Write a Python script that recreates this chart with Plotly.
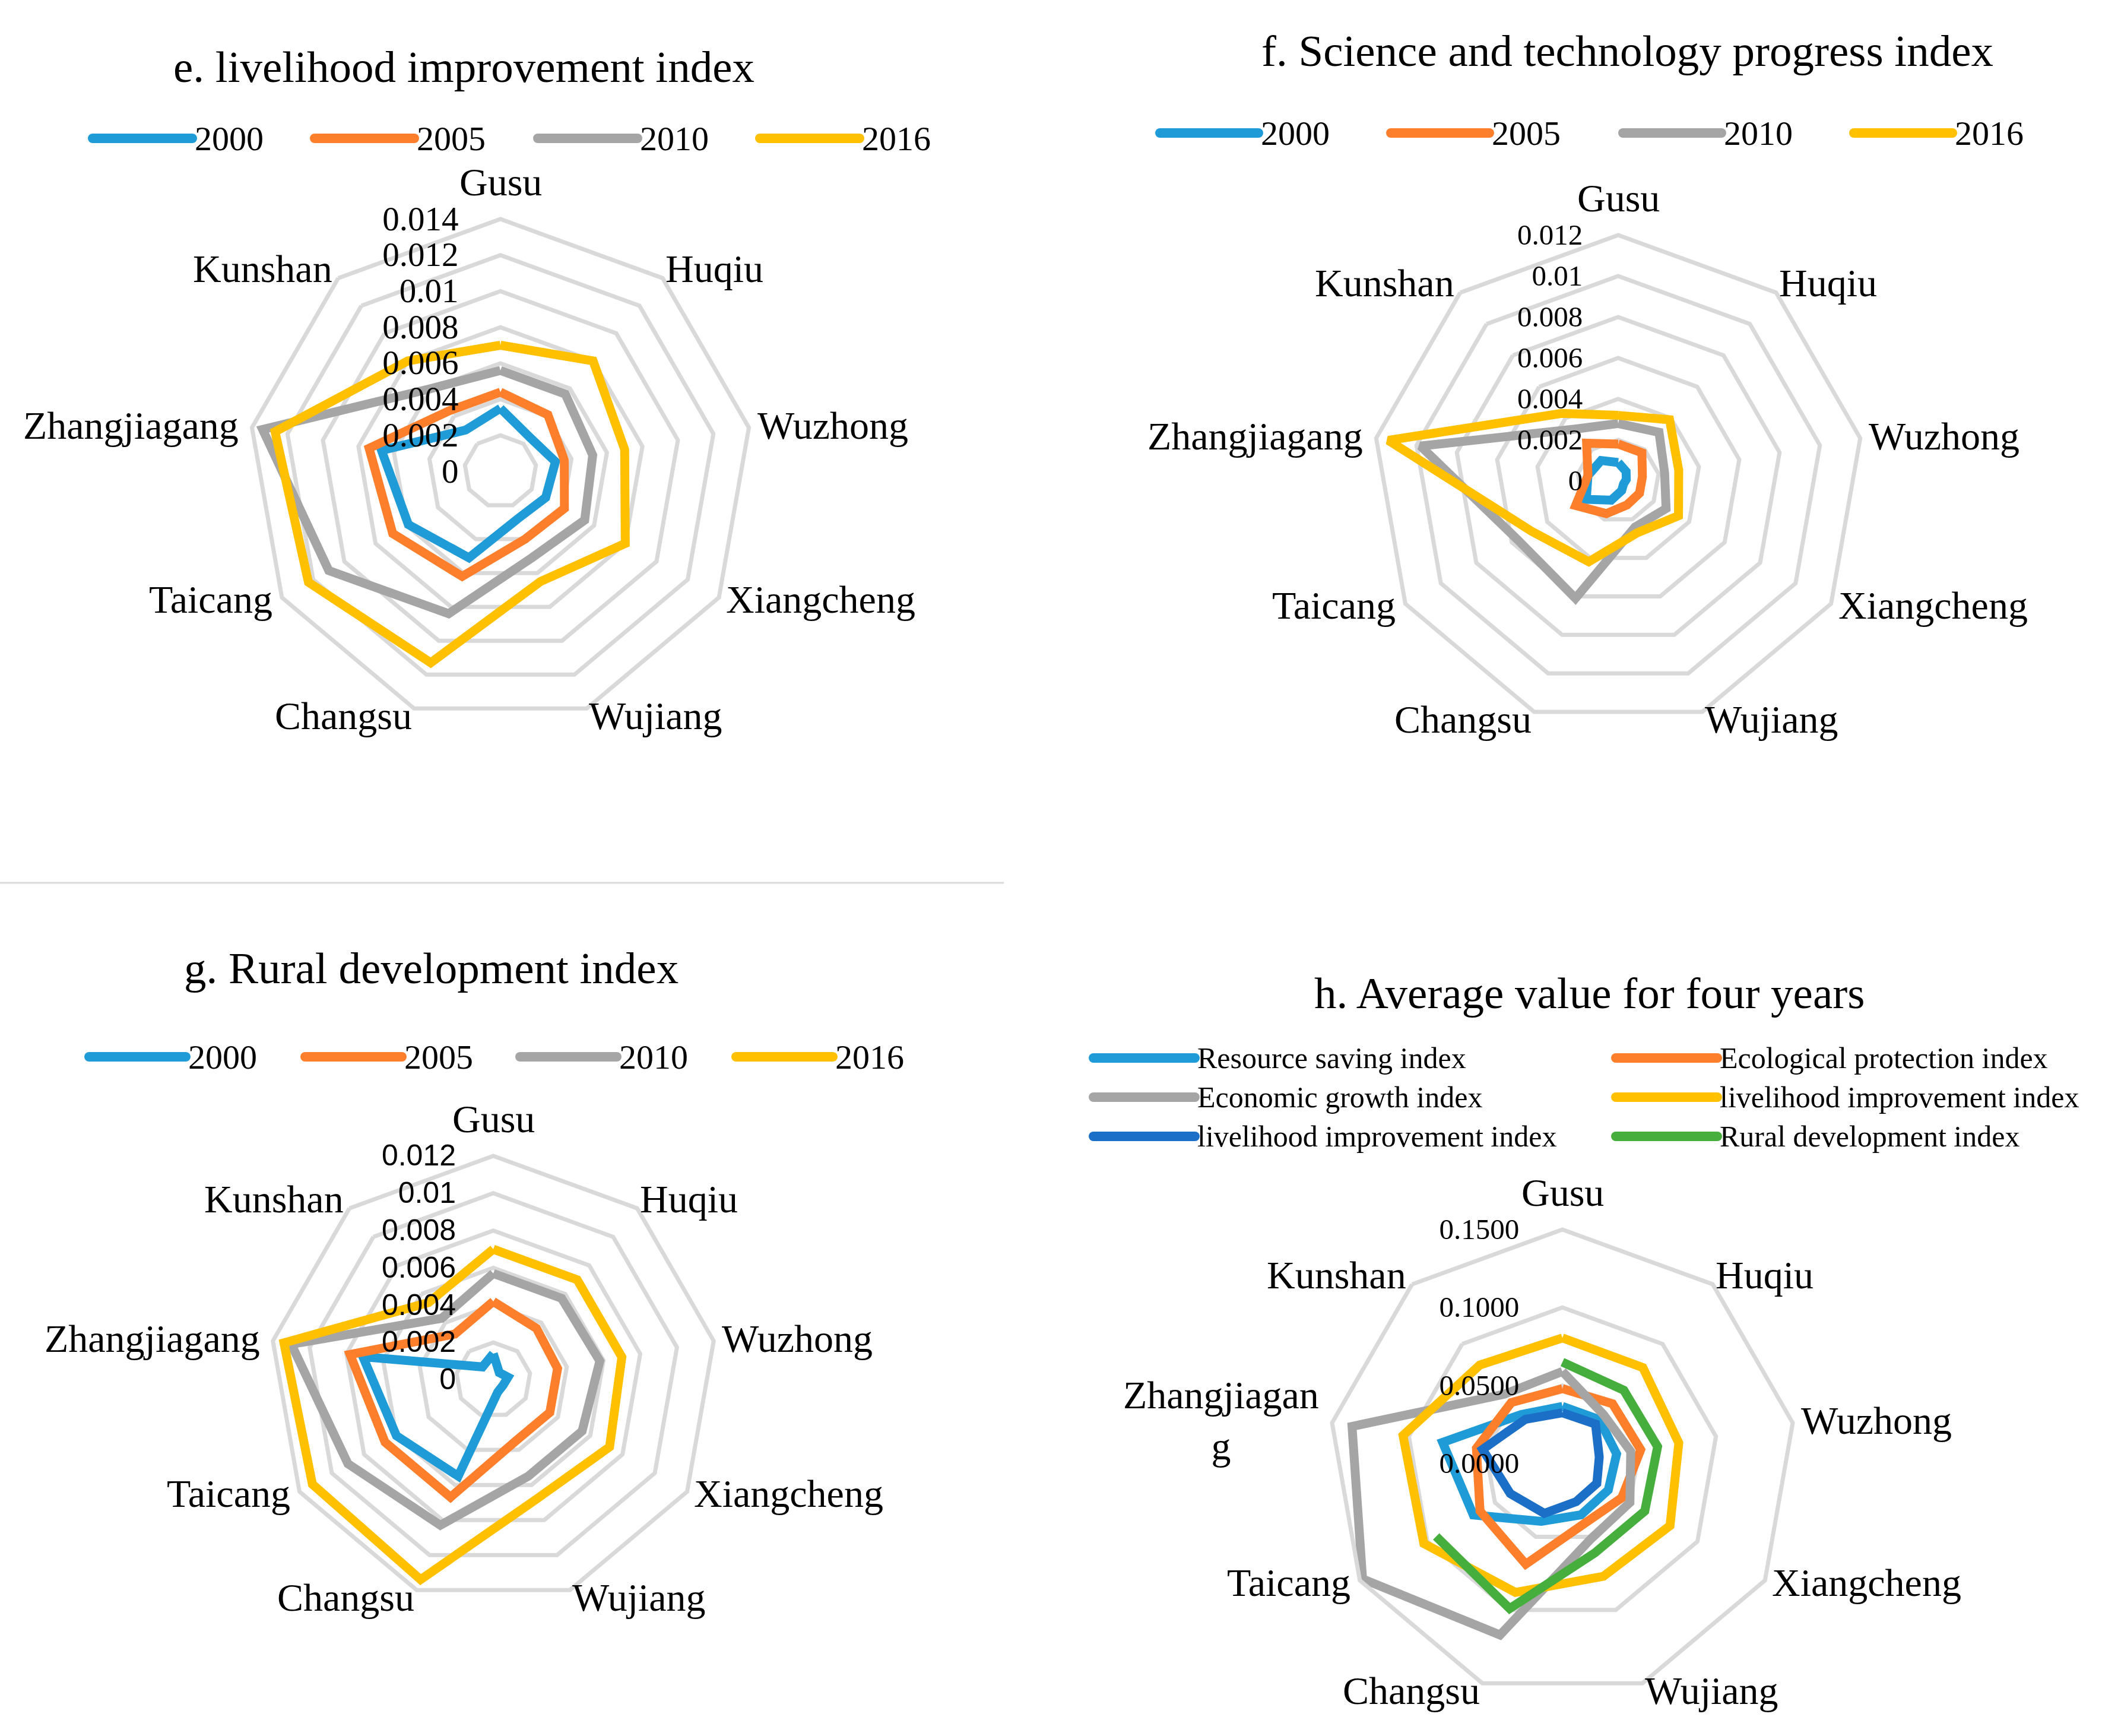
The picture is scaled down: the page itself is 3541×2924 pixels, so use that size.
import math
import plotly.graph_objects as go

# ---------------- data ----------------
districts = ["Gusu", "Huqiu", "Wuzhong", "Xiangcheng", "Wujiang",
             "Changsu", "Taicang", "Zhangjiagang", "Kunshan"]
district_labels_h = ["Gusu", "Huqiu", "Wuzhong", "Xiangcheng", "Wujiang",
                     "Changsu", "Taicang", "Zhangjiagan<br>g", "Kunshan"]
years = ["2000", "2005", "2010", "2016"]

# e. livelihood improvement index
liv_2000 = [0.0035, 0.0025, 0.0031, 0.0029, 0.0028, 0.0051, 0.0059, 0.0067, 0.0030]
liv_2005 = [0.0044, 0.0041, 0.0036, 0.0041, 0.0040, 0.0062, 0.0069, 0.0074, 0.0044]
liv_2010 = [0.0056, 0.0056, 0.0052, 0.0054, 0.0051, 0.0084, 0.0110, 0.0134, 0.0060]
liv_2016 = [0.0070, 0.0080, 0.0070, 0.0080, 0.0065, 0.0113, 0.0123, 0.0127, 0.0080]

# f. Science and technology progress index
sci_2000 = [0.0009, 0.0006, 0.0004, 0.0003, 0.0005, 0.0010, 0.0018, 0.0015, 0.0013]
sci_2005 = [0.0018, 0.0018, 0.0012, 0.0012, 0.00125, 0.0017, 0.0024, 0.0015, 0.0024]
sci_2010 = [0.0028, 0.0031, 0.0023, 0.0027, 0.0024, 0.0061, 0.0057, 0.0098, 0.0033]
sci_2016 = [0.0032, 0.0039, 0.0030, 0.0034, 0.0027, 0.0042, 0.0049, 0.0114, 0.0043]

# g. Rural development index
rur_2000 = [0.0014, 0.0005, 0.0008, 0.0006, 0.0007, 0.0055, 0.0060, 0.0071, 0.0009]
rur_2005 = [0.0042, 0.0036, 0.0035, 0.0035, 0.0035, 0.0067, 0.0067, 0.0078, 0.0032]
rur_2010 = [0.0057, 0.0057, 0.0058, 0.0055, 0.0055, 0.0083, 0.0090, 0.0110, 0.0043]
rur_2016 = [0.0070, 0.0070, 0.0070, 0.0072, 0.0068, 0.0114, 0.0112, 0.0114, 0.0054]

# h. Average value for four years
avg_names = ["Resource saving index", "Ecological protection index",
             "Economic growth index", "livelihood improvement index",
             "livelihood improvement index", "Rural development index"]
avg_resource = [0.0366, 0.0368, 0.0353, 0.0340, 0.0350, 0.0395, 0.0660, 0.0780, 0.0410]
avg_ecology = [0.0480, 0.0500, 0.0510, 0.0440, 0.0410, 0.0687, 0.0610, 0.0560, 0.0510]
avg_economy = [0.0590, 0.0410, 0.0445, 0.0500, 0.0520, 0.1170, 0.1480, 0.1370, 0.0580]
avg_livelihood = [0.0805, 0.0803, 0.0758, 0.0797, 0.0770, 0.0880, 0.1026, 0.1038, 0.0824]
avg_livelihood2 = [0.0325, 0.0330, 0.0240, 0.0255, 0.0260, 0.0340, 0.0386, 0.0520, 0.0370]
avg_rural = [0.0650, 0.0613, 0.0620, 0.0610, 0.0610, 0.0990, 0.0935, None, None]

# ---------------- style ----------------
W, H = 3541, 2924
SERIF = "Liberation Serif"
year_colors = ["#1F9CD8", "#FD7F2C", "#A5A5A5", "#FFC000"]
avg_colors = ["#1F9CD8", "#FD7F2C", "#A5A5A5", "#FFC000", "#1B6FC6", "#46AE3D"]
GRID = "#D9D9D9"
LW = 15

fig = go.Figure()


def closed(vals):
    return list(vals) + [vals[0]]


def add_series(subplot, values, color, name):
    fig.add_trace(go.Scatterpolar(
        r=closed(values), theta=closed(districts), mode="lines",
        line=dict(color=color, width=LW), name=name, subplot=subplot,
        showlegend=False, connectgaps=False, hoverinfo="skip"))


for vals, c, y in zip([liv_2000, liv_2005, liv_2010, liv_2016], year_colors, years):
    add_series("polar", vals, c, y)
for vals, c, y in zip([sci_2000, sci_2005, sci_2010, sci_2016], year_colors, years):
    add_series("polar2", vals, c, y)
for vals, c, y in zip([rur_2000, rur_2005, rur_2010, rur_2016], year_colors, years):
    add_series("polar3", vals, c, y)
for vals, c, n in zip([avg_resource, avg_ecology, avg_economy, avg_livelihood,
                       avg_livelihood2, avg_rural], avg_colors, avg_names):
    add_series("polar4", vals, c, n)


def px_domain(cx, cy, r):
    return dict(x=[(cx - r) / W, (cx + r) / W],
                y=[1 - (cy + r) / H, 1 - (cy - r) / H])


def polar_layout(cx, cy, r, rmax, dtick, tickfont, ticklen, tickformat=None):
    ang = dict(direction="clockwise", rotation=90, showgrid=False,
               showline=True, linecolor=GRID, linewidth=7, ticks="",
               showticklabels=False,
               categoryorder="array", categoryarray=districts)
    rad = dict(range=[0, rmax], dtick=dtick, tick0=0, showgrid=True,
               gridcolor=GRID, gridwidth=7, showline=False,
               ticks="outside", ticklen=ticklen, tickcolor="rgba(0,0,0,0)",
               angle=90, side="counterclockwise", tickangle=90,
               tickfont=tickfont)
    if tickformat:
        rad["tickformat"] = tickformat
    return dict(domain=px_domain(cx, cy, r), gridshape="linear",
                bgcolor="rgba(0,0,0,0)", angularaxis=ang, radialaxis=rad)


panels = {
    "e": dict(cx=843, cy=794, r=425),
    "f": dict(cx=2726, cy=810, r=414),
    "g": dict(cx=831, cy=2324, r=377),
    "h": dict(cx=2632, cy=2465, r=394),
}

fig.update_layout(
    width=W, height=H, margin=dict(l=0, r=0, t=0, b=0),
    font=dict(family=SERIF, color="black"),
    paper_bgcolor="white", plot_bgcolor="white", showlegend=False,
    polar=polar_layout(**panels["e"], rmax=0.014, dtick=0.002, ticklen=50,
                       tickfont=dict(family=SERIF, size=57, color="black")),
    polar2=polar_layout(**panels["f"], rmax=0.012, dtick=0.002, ticklen=42,
                        tickfont=dict(family=SERIF, size=49, color="black")),
    polar3=polar_layout(**panels["g"], rmax=0.012, dtick=0.002, ticklen=45,
                        tickfont=dict(family="Liberation Sans Narrow, Liberation Sans",
                                      size=50, color="black")),
    polar4=polar_layout(**panels["h"], rmax=0.15, dtick=0.05, ticklen=55,
                        tickfont=dict(family=SERIF, size=49, color="black"),
                        tickformat=".4f"),
)

shapes = []
annotations = []

# category label placement around each vertex (Excel-like)
label_rules = [
    (0, -24, "center", "bottom"),
    (3, -16, "left", "middle"),
    (12, -4, "left", "middle"),
    (10, 3, "left", "middle"),
    (2, -26, "left", "top"),
    (-2, -26, "right", "top"),
    (-14, 3, "right", "middle"),
    (-20, -4, "right", "middle"),
    (-8, -16, "right", "middle"),
]


def category_labels(p, labels):
    n = len(labels)
    for i, lab in enumerate(labels):
        ang = math.radians(90 - 360.0 * i / n)
        vx = p["cx"] + p["r"] * math.cos(ang)
        vy = p["cy"] - p["r"] * math.sin(ang)
        dx, dy, xa, ya = label_rules[i]
        annotations.append(dict(text=lab, x=(vx + dx) / W, y=1 - (vy + dy) / H,
                                xref="paper", yref="paper", xanchor=xa, yanchor=ya,
                                showarrow=False, align="center",
                                font=dict(family=SERIF, size=66, color="black")))


category_labels(panels["e"], districts)
category_labels(panels["f"], districts)
category_labels(panels["g"], districts)
category_labels(panels["h"], district_labels_h)


def title(text, cx, cy):
    annotations.append(dict(text=text, x=cx / W, y=1 - cy / H, xref="paper", yref="paper",
                            xanchor="center", yanchor="middle", showarrow=False,
                            font=dict(family=SERIF, size=75, color="black")))


def legend_item(x0, length, y, color, text, size):
    yp = 1 - y / H
    shapes.append(dict(type="line", xref="paper", yref="paper",
                       x0=x0 / W, x1=(x0 + length) / W, y0=yp, y1=yp,
                       line=dict(color=color, width=16)))
    for xe in (x0, x0 + length):
        shapes.append(dict(type="circle", xref="paper", yref="paper",
                           xsizemode="pixel", ysizemode="pixel",
                           xanchor=xe / W, yanchor=yp, x0=-8, x1=8, y0=-8, y1=8,
                           fillcolor=color, line=dict(width=0)))
    annotations.append(dict(text=text, x=(x0 + length + 2) / W, y=yp,
                            xref="paper", yref="paper", xanchor="left", yanchor="middle",
                            showarrow=False, font=dict(family=SERIF, size=size, color="black")))


title("e. livelihood improvement index", 781, 112)
title("f. Science and technology progress index", 2741, 85)
title("g. Rural development index", 726, 1630)
title("h. Average value for four years", 2677, 1672)

for x0, c, y in zip([156, 530, 906, 1280], year_colors, years):
    legend_item(x0, 168, 233, c, y, 58)
for x0, c, y in zip([1954, 2343, 2734, 3123], year_colors, years):
    legend_item(x0, 166, 224, c, y, 58)
for x0, c, y in zip([150, 514, 876, 1240], year_colors, years):
    legend_item(x0, 163, 1780, c, y, 58)
h_pos = [(1842, 1782), (2722, 1782), (1842, 1848), (2722, 1848), (1842, 1914), (2722, 1914)]
for (x0, y), c, n in zip(h_pos, avg_colors, avg_names):
    legend_item(x0, 171, y, c, n, 50)

# light separator line under panel e
shapes.append(dict(type="line", xref="paper", yref="paper", x0=0, x1=1691 / W,
                   y0=1 - 1487 / H, y1=1 - 1487 / H, line=dict(color=GRID, width=3)))

fig.update_layout(shapes=shapes, annotations=annotations)
fig.write_html("out.html", config={"displayModeBar": False},
               post_script="document.body.style.margin='0px';")
